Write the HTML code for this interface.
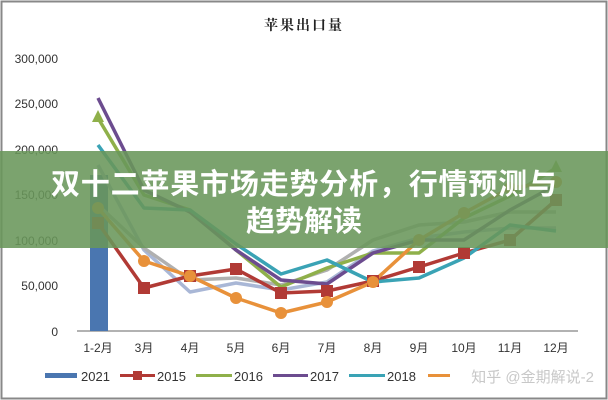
<!DOCTYPE html>
<html><head><meta charset="utf-8"><style>
html,body{margin:0;padding:0;background:#fff;}
svg{display:block;}
</style></head><body>
<svg width="608" height="400" viewBox="0 0 608 400" xmlns="http://www.w3.org/2000/svg">
<rect x="0" y="0" width="608" height="400" fill="#fff"/>
<rect x="1.5" y="1.5" width="605" height="397" fill="none" stroke="#888" stroke-width="2"/>
<text x="304" y="30" text-anchor="middle" font-family="'Noto Serif CJK SC',serif" font-weight="bold" font-size="14" letter-spacing="2" fill="#222">苹果出口量</text>
<g font-family="'Liberation Sans',sans-serif" font-size="12" fill="#333" text-anchor="end">
<text x="58" y="63">300,000</text>
<text x="58" y="108">250,000</text>
<text x="58" y="154">200,000</text>
<text x="58" y="199">150,000</text>
<text x="58" y="245">100,000</text>
<text x="58" y="290">50,000</text>
<text x="58" y="336">0</text>
</g>
<line x1="77" y1="331" x2="578" y2="331" stroke="#999" stroke-width="1.5"/>
<rect x="90" y="175" width="18" height="156" fill="#4a76b0"/>
<g fill="none" stroke-width="3.5" stroke-linejoin="round">
<polyline stroke="#a9b7d6" points="98,165 144,250 190,292 236,283 281,290 327,282 373,251 419,238 464,232 510,228 556,228"/>
<polyline stroke="#b0b0b0" points="98,205 144,248 190,280 236,278 281,285 327,270 373,240 419,225 464,222 510,212 556,212"/>
<polyline stroke="#b13a35" points="98,223 144,288 190,276 236,269 281,293 327,291 373,281 419,267 464,253 510,240 556,200"/>
<polyline stroke="#8fb04a" points="98,118 144,195 190,210 236,250 281,287 327,268 373,253 419,253 464,218 510,196 556,168"/>
<polyline stroke="#6c4c8f" points="98,98 144,190 190,212 236,250 281,280 327,284 373,253 419,240 464,240 510,210 556,185"/>
<polyline stroke="#3aa3b5" points="98,145 144,208 190,210 236,244 281,274 327,260 373,282 419,278 464,258 510,225 556,231"/>
<polyline stroke="#e8913a" points="98,208 144,261 190,276 236,298 281,313 327,302 373,282 419,240 464,213 510,188 556,182"/>
</g>
<g fill="#b13a35"><rect x="92" y="217" width="12" height="12"/><rect x="138" y="282" width="12" height="12"/><rect x="184" y="270" width="12" height="12"/><rect x="230" y="263" width="12" height="12"/><rect x="275" y="287" width="12" height="12"/><rect x="321" y="285" width="12" height="12"/><rect x="367" y="275" width="12" height="12"/><rect x="413" y="261" width="12" height="12"/><rect x="458" y="247" width="12" height="12"/><rect x="504" y="234" width="12" height="12"/><rect x="550" y="194" width="12" height="12"/></g>
<g fill="#e8913a"><circle cx="98" cy="208" r="6"/><circle cx="144" cy="261" r="6"/><circle cx="190" cy="276" r="6"/><circle cx="236" cy="298" r="6"/><circle cx="281" cy="313" r="6"/><circle cx="327" cy="302" r="6"/><circle cx="373" cy="282" r="6"/><circle cx="419" cy="240" r="6"/><circle cx="464" cy="213" r="6"/><circle cx="510" cy="188" r="6"/><circle cx="556" cy="182" r="6"/></g>
<g fill="#8fb04a"><polygon points="98,110 92,122 104,122"/><polygon points="556,160 550,172 562,172"/></g>
<rect x="0" y="151" width="608" height="97" fill="rgb(105,150,90)" fill-opacity="0.88"/>
<g font-family="'Noto Sans CJK SC','WenQuanYi Zen Hei',sans-serif" font-weight="bold" font-size="29" fill="#fff" text-anchor="middle">
<text x="304" y="194" textLength="506" lengthAdjust="spacing">双十二苹果市场走势分析，行情预测与</text>
<text x="304" y="231">趋势解读</text>
</g>
<g font-family="'Liberation Sans','Noto Sans CJK SC',sans-serif" font-size="12" fill="#333" text-anchor="middle">
<text x="98" y="352">1-2月</text><text x="144" y="352">3月</text><text x="190" y="352">4月</text><text x="236" y="352">5月</text><text x="281" y="352">6月</text><text x="327" y="352">7月</text><text x="373" y="352">8月</text><text x="419" y="352">9月</text><text x="464" y="352">10月</text><text x="510" y="352">11月</text><text x="556" y="352">12月</text>
</g>
<g font-family="'Liberation Sans',sans-serif" font-size="13" fill="#333">
<rect x="45" y="373" width="32" height="5" fill="#4a76b0"/><text x="81" y="381">2021</text>
<line x1="120" y1="375.5" x2="155" y2="375.5" stroke="#b13a35" stroke-width="3"/><rect x="133" y="371" width="9" height="9" fill="#b13a35"/><text x="157" y="381">2015</text>
<line x1="196" y1="375.5" x2="232" y2="375.5" stroke="#8fb04a" stroke-width="3"/><text x="234" y="381">2016</text>
<line x1="273" y1="375.5" x2="308" y2="375.5" stroke="#6c4c8f" stroke-width="3"/><text x="310" y="381">2017</text>
<line x1="349" y1="375.5" x2="385" y2="375.5" stroke="#3aa3b5" stroke-width="3"/><text x="387" y="381">2018</text>
<line x1="428" y1="375.5" x2="450" y2="375.5" stroke="#e8913a" stroke-width="3"/>
</g>
<text x="594" y="382" text-anchor="end" font-family="'Liberation Sans','Noto Sans CJK SC',sans-serif" font-size="15" fill="#c8c8c8">知乎 @金期解说-2</text>
</svg>
</body></html>
